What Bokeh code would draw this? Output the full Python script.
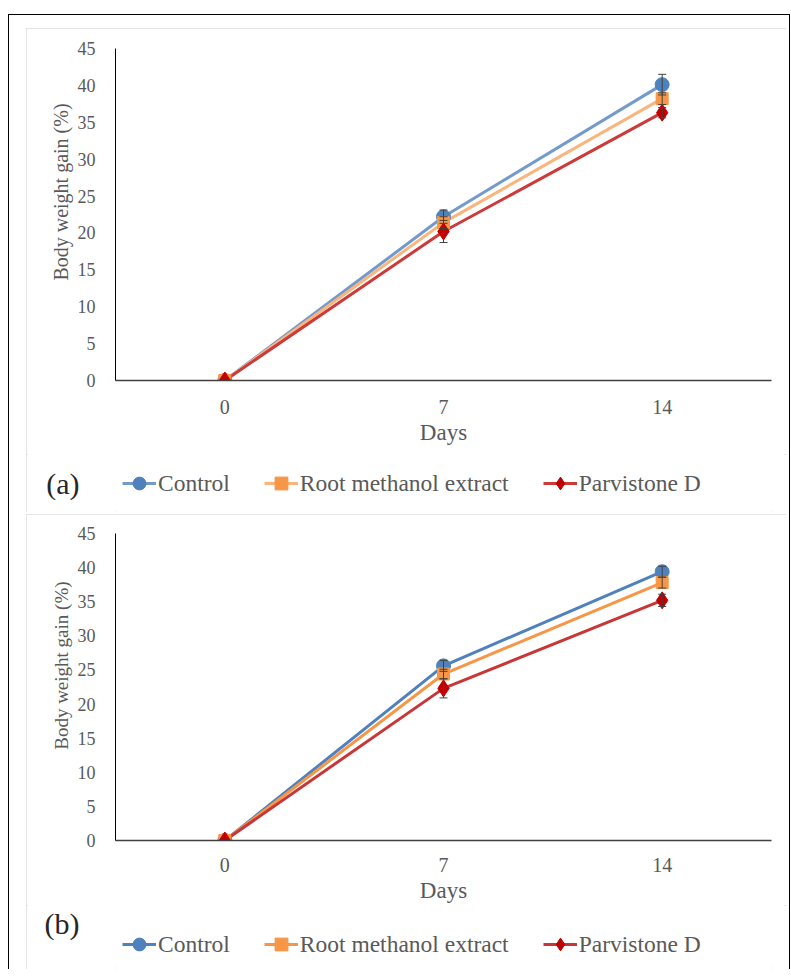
from bokeh.plotting import figure
from bokeh.models import (ColumnDataSource, Whisker, Legend, LegendItem,
                          Range1d, FixedTicker, TeeHead, CustomJSTickFormatter)
from bokeh.layouts import column
from bokeh.embed import file_html
from bokeh.resources import INLINE

# ---------------- data ----------------
days = [0, 7, 14]
day_labels = {0: "0", 7: "7", 14: "14"}
series_names = ["Control", "Root methanol extract", "Parvistone D"]
y_ticks = [0, 5, 10, 15, 20, 25, 30, 35, 40, 45]
y_title = "Body weight gain (%)"

a_control = [0, 22.2, 40.1]
a_control_err = [0, 0.9, 1.4]
a_root = [0, 21.4, 38.2]
a_root_err = [0, 0.8, 0.8]
a_parv = [0, 20.2, 36.3]
a_parv_err = [0, 1.5, 0.7]

b_control = [0, 25.6, 39.4]
b_control_err = [0, 0.8, 0.8]
b_root = [0, 24.4, 37.8]
b_root_err = [0, 0.7, 0.8]
b_parv = [0, 22.3, 35.2]
b_parv_err = [0, 1.4, 0.9]

FONT = "Liberation Serif"
TXT = "#595959"
markers = ["circle", "square", "diamond"]
marker_sizes = [14, 12, 17]
marker_colors = ["#4f81bd", "#f79646", "#c00000"]
W = 760
LEFT, RIGHT = 89, 15
NBSP = "\u00a0"


def make_sources(vals, errs):
    srcs = []
    for y, e in zip(vals, errs):
        srcs.append(ColumnDataSource(dict(x=days, y=y,
                                          lo=[a - b for a, b in zip(y, e)],
                                          hi=[a + b for a, b in zip(y, e)])))
    return srcs


def make_chart(srcs, line_colors, height, frame_top, frame_h, lab_standoff, ytitle_size):
    bottom = height - frame_top - frame_h
    p = figure(width=W, height=height, x_range=Range1d(-3.5, 17.5),
               y_range=Range1d(0, 45), output_backend="svg", toolbar_location=None,
               min_border_left=LEFT, min_border_right=RIGHT, min_border_top=frame_top,
               min_border_bottom=bottom)
    p.outline_line_color = None
    p.xgrid.grid_line_color = None
    p.ygrid.grid_line_color = None
    p.background_fill_color = "white"
    p.border_fill_color = "white"

    p.yaxis.ticker = FixedTicker(ticks=y_ticks)
    p.yaxis.axis_line_color = "black"
    p.yaxis.axis_line_width = 1
    p.yaxis.major_tick_line_color = None
    p.yaxis.minor_tick_line_color = None
    p.yaxis.major_label_standoff = 14
    p.yaxis.major_label_text_font = FONT
    p.yaxis.major_label_text_font_size = "18px"
    p.yaxis.major_label_text_color = TXT
    # leading no-break spaces lift the title a little above the axis centre, as in Excel
    p.yaxis.axis_label = NBSP * 9 + y_title
    p.yaxis.axis_label_text_font = FONT
    p.yaxis.axis_label_text_font_size = ytitle_size
    p.yaxis.axis_label_text_font_style = "normal"
    p.yaxis.axis_label_text_color = TXT
    p.yaxis.axis_label_standoff = 3

    p.xaxis.ticker = FixedTicker(ticks=days)
    p.xaxis.major_label_overrides = day_labels
    p.xaxis.axis_line_color = "#404040"
    p.xaxis.axis_line_width = 1.5
    p.xaxis.major_tick_line_color = None
    p.xaxis.minor_tick_line_color = None
    p.xaxis.major_label_standoff = lab_standoff
    p.xaxis.major_label_text_font = FONT
    p.xaxis.major_label_text_font_size = "20px"
    p.xaxis.major_label_text_color = TXT
    p.xaxis.axis_label = "Days"
    p.xaxis.axis_label_text_font = FONT
    p.xaxis.axis_label_text_font_size = "23px"
    p.xaxis.axis_label_text_font_style = "normal"
    p.xaxis.axis_label_text_color = TXT
    p.xaxis.axis_label_standoff = 3

    for i, src in enumerate(srcs):
        p.line("x", "y", source=src, line_color=line_colors[i], line_width=3)
    for src in srcs:
        p.add_layout(Whisker(base="x", lower="lo", upper="hi", source=src, level="glyph",
                             line_color="#404040", line_width=1,
                             upper_head=TeeHead(size=8, line_color="#404040", line_width=1),
                             lower_head=TeeHead(size=8, line_color="#404040", line_width=1)))
    for i, src in enumerate(srcs):
        p.scatter("x", "y", source=src, marker=markers[i], size=marker_sizes[i],
                  fill_color=marker_colors[i], line_color=marker_colors[i])
    return p


def make_legend_row(tag, srcs, line_colors, height, leg_y, tag_pos):
    # legend keys are drawn from proxy renderers whose data lie outside this strip's view
    q = figure(width=W, height=height, x_range=Range1d(100, 101), y_range=Range1d(0, 1),
               output_backend="svg", toolbar_location=None,
               x_axis_location=None, y_axis_location="left",
               min_border_left=LEFT, min_border_right=RIGHT,
               min_border_top=0, min_border_bottom=0)
    q.outline_line_color = None
    q.grid.visible = False
    q.background_fill_color = "white"
    q.border_fill_color = "white"
    # the panel tag "(a)" / "(b)" is shown as this strip's single axis label
    q.yaxis.ticker = FixedTicker(ticks=[tag_pos])
    q.yaxis.formatter = CustomJSTickFormatter(code="return '%s'" % tag)
    q.yaxis.axis_line_color = None
    q.yaxis.major_tick_line_color = None
    q.yaxis.minor_tick_line_color = None
    q.yaxis.major_label_standoff = 30
    q.yaxis.major_label_text_font = FONT
    q.yaxis.major_label_text_font_size = "30px"
    q.yaxis.major_label_text_color = "#262626"

    items = []
    for i, src in enumerate(srcs):
        ln = q.line("x", "y", source=src, line_color=line_colors[i], line_width=3)
        sc = q.scatter("x", "y", source=src, marker=markers[i],
                       fill_color=marker_colors[i], line_color=marker_colors[i])
        items.append(LegendItem(label=series_names[i], renderers=[ln, sc]))
    leg = Legend(items=items, orientation="horizontal", location=(7, leg_y),
                 margin=0, padding=0, spacing=34, label_standoff=2,
                 glyph_width=34, glyph_height=32,
                 label_text_font=FONT, label_text_font_size="23.5px",
                 label_text_color=TXT, border_line_color=None,
                 background_fill_alpha=0)
    q.add_layout(leg)
    return q


panel_style = {"outline": "2px solid #dcdcdc", "outline-offset": "-2px"}

cols_a = ["#729acb", "#f9b57c", "#cd3a3a"]
cols_b = ["#4f81bd", "#f79646", "#c83737"]
src_a = make_sources([a_control, a_root, a_parv], [a_control_err, a_root_err, a_parv_err])
src_b = make_sources([b_control, b_root, b_parv], [b_control_err, b_root_err, b_parv_err])

ca = make_chart(src_a, cols_a, 426, 20, 332, 13, "20px")
la = make_legend_row("(a)", src_a, cols_a, 58, 13, 0.5)
cb = make_chart(src_b, cols_b, 391, 19, 308, 11, "19px")
lb = make_legend_row("(b)", src_b, cols_b, 64, 9, 0.766)

pa = column(ca, la, spacing=0, styles=panel_style)
pb = column(cb, lb, spacing=0, styles=panel_style)

layout = column(pa, pb, spacing=2,
                styles={"border-left": "1px solid black", "border-top": "1px solid black",
                        "border-right": "1px solid black",
                        "padding": "13px 3px 0px 17px", "margin": "14px 0px 0px 8px"})

open("out.html", "w").write(file_html(layout, INLINE))
